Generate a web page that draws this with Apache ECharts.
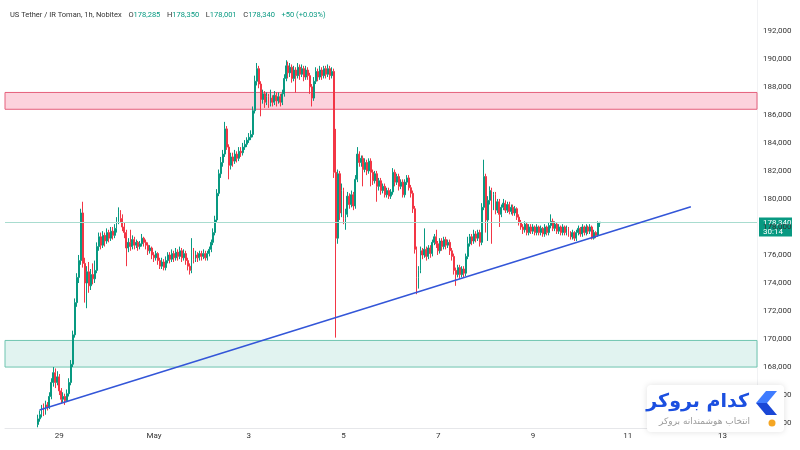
<!DOCTYPE html>
<html>
<head>
<meta charset="utf-8">
<script src="https://cdn.jsdelivr.net/npm/echarts@6/dist/echarts.min.js"></script>
<style>
  html, body { margin: 0; background: #fff; }
  #chart { width: 800px; height: 450px; }
</style>
</head>
<body>
<div id="chart"></div>
<script>
// hourly candles, [open, close, low, high] in toman
const apr28 = [
  [163900,164300,163700,164600],[164300,164600,164100,164900],[164600,165000,164400,165300],[165000,164800,164500,165400],
  [164800,165300,164600,165600],[165300,165100,164900,165500],[165100,165900,165000,166200],[165900,166900,165700,167200],
  [166900,167600,166600,168000],[167600,166900,166500,167900],[166900,167300,166700,167700],
]
const apr29 = [
  [167300,166300,166000,167500],[166300,165700,165400,166500],[165700,165900,165500,166200],[165900,165600,165300,166100],
  [165600,166100,165500,166400],[166100,166900,165900,167200],[166900,168200,166700,168500],[168200,170300,168000,170600],
  [170300,172600,170100,172900],[172600,174400,172300,174700],[174400,175600,174000,176000],[175600,179000,175300,179300],
  [179000,175400,175100,179800],[175400,174000,172600,175800],[174000,174800,172200,175200],[174800,173800,173300,175500],
  [173800,174600,173500,175000],[174600,174300,173900,175400],[174300,174900,174000,175600],[174900,176600,174700,176900],
  [176600,177300,176300,177600],[177300,176700,176400,177600],[176700,177400,176500,177700],[177400,177000,176600,177600],
]
const apr30 = [
  [177000,177600,176800,177900],[177600,177200,176900,177800],[177200,177700,177000,178000],[177700,177400,177100,178000],
  [177400,177900,177200,178200],[177900,178400,177600,178700],[178400,179000,178200,179400],[179000,178600,178300,179200],
  [178600,178000,177700,178900],[178000,177600,177200,178300],[177600,176500,175200,177800],[176500,176900,176200,177200],
  [176900,176600,176300,177800],[176600,177100,176400,177400],[177100,176700,176400,177300],[176700,176900,176500,177100],
  [176900,176600,176300,177000],[176600,176800,176400,177000],[176800,177200,176600,177500],[177200,176900,176600,177300],
  [176900,176700,176400,177100],[176700,176300,176000,176900],[176300,176500,176100,176700],[176500,176000,175700,176600],
]
const may1 = [
  [176000,175800,175500,176200],[175800,176100,175600,176300],[176100,175600,175300,176200],[175600,175200,175000,175800],
  [175200,175500,175000,175800],[175500,175100,174900,175700],[175100,175600,174900,175900],[175600,176000,175400,176200],
  [176000,175700,175400,176200],[175700,176100,175500,176400],[176100,175800,175500,176300],[175800,176200,175600,176500],
  [176200,175900,175600,176400],[175900,176300,175700,176600],[176300,175800,175500,176500],[175800,176100,175600,176400],
  [176100,175600,175300,176300],[175600,175200,174900,175800],[175200,174900,174600,175400],[174900,176200,174700,177200],
  [176200,175700,175400,176500],[175700,176000,175500,176300],[176000,175800,175500,176200],[175800,176100,175600,176300],
]
const may2 = [
  [176100,175900,175600,176300],[175900,176100,175700,176400],[176100,175800,175600,176300],[175800,176100,175600,176300],
  [176100,176400,175900,176600],[176400,176900,176200,177100],[176900,177600,176700,177900],[177600,178500,177400,178800],
  [178500,180400,178300,180700],[180400,181800,180200,182100],[181800,182600,181500,183000],[182600,183200,182300,183500],
  [183200,185000,183000,185500],[185000,183700,183500,185200],[183700,182400,181400,183900],[182400,183000,182100,183300],
  [183000,182700,182300,183300],[182700,183200,182500,183500],[183200,182900,182600,183400],[182900,183400,182700,183700],
  [183400,183300,183000,183700],[183300,183700,183100,184000],[183700,183900,183500,184200],[183900,184200,183700,184400],
]
const may3 = [
  [184200,184400,184000,184700],[184400,184600,184200,184900],[184600,186300,184400,186600],[186300,188400,186100,188800],
  [188400,189300,188100,189700],[189300,188200,187900,189500],[188200,187100,185900,188400],[187100,187500,186800,187800],
  [187500,186900,186500,187700],[186900,187300,186700,187600],[187300,186800,186500,187500],[186800,187200,186600,187800],
  [187200,186900,186600,187400],[186900,187400,186700,187700],[187400,187000,186600,187600],[187000,187300,186800,187600],
  [187300,186900,186600,187500],[186900,187500,186700,187800],[187500,188600,187300,188900],[188600,189500,188400,189900],
  [189500,189000,188600,189800],[189000,189400,188700,189700],[189400,188600,188300,189600],[188600,189200,188400,189500],
]
const may4 = [
  [189200,188800,187600,189400],[188800,189400,188600,189700],[189400,188900,188500,189600],[188900,189300,188700,189600],
  [189300,188700,188400,189500],[188700,189200,188500,189500],[189200,188800,188500,189400],[188800,188000,187500,189000],
  [188000,187200,186600,188200],[187200,188400,187000,188700],[188400,189100,188200,189400],[189100,188700,188400,189300],
  [188700,189200,188500,189500],[189200,188800,188500,189400],[188800,189300,188600,189500],[189300,188900,188600,189500],
  [188900,189300,188700,189600],[189300,188800,188500,189500],[188800,189100,188600,189400],[189100,181900,181500,189300],
  [181900,177200,170100,185000],[177200,181800,176800,182100],[181800,179000,178500,182000],[179000,180600,178700,181100],
]
const may5 = [
  [180600,178600,178200,180800],[178600,178900,177800,179300],[178900,180200,178700,180500],[180200,179600,179300,180400],
  [179600,180300,179400,180600],[180300,179500,179200,180500],[179500,181400,179300,181700],[181400,183200,181200,183700],
  [183200,182600,182300,183400],[182600,182900,182300,183100],[182900,182100,180900,183100],[182100,182600,181900,182900],
  [182600,182000,181700,182800],[182000,182700,181800,182900],[182700,181900,180900,182900],[181900,181300,181000,182100],
  [181300,181800,181100,182000],[181800,180900,179800,182000],[180900,181300,180600,181500],[181300,180600,180300,181500],
  [180600,180900,180400,181100],[180900,180300,180100,181100],[180300,180600,180100,180800],[180600,180200,180000,180800],
]
const may6 = [
  [180200,180500,180000,180700],[180500,181900,180300,182200],[181900,181200,180900,182100],[181200,181600,181000,181800],
  [181600,180900,180600,181800],[180900,181200,180700,181400],[181200,180300,180100,181400],[180300,181200,180100,181400],
  [181200,181500,181000,181700],[181500,180800,180600,181700],[180800,180400,180100,181000],[180400,179300,179000,180600],
  [179300,176400,176100,179500],[176400,174400,173200,176600],[174400,174900,173600,175200],[174900,176300,174700,176600],
  [176300,176000,175700,176500],[176000,176400,175800,177900],[176400,175900,175600,176600],[175900,176500,175700,176700],
  [176500,176100,175800,176700],[176100,176900,175900,177100],[176900,177300,176700,177500],[177300,176800,176500,177800],
]
const may7 = [
  [176800,176300,176000,177000],[176300,177000,176100,177200],[177000,176600,176300,177200],[176600,177100,176400,177300],
  [177100,176700,176400,177300],[176700,176900,176500,177100],[176900,176300,176000,177100],[176300,175900,175600,176500],
  [175900,174900,174600,176100],[174900,174600,173800,175100],[174600,175100,174400,175300],[175100,174600,174300,175300],
  [174600,175000,174400,175200],[175000,174700,174400,175200],[174700,175900,174500,176100],[175900,176800,175700,177300],
  [176800,177300,176600,177500],[177300,177000,176700,177500],[177000,177500,176800,177800],[177500,177200,176900,177700],
  [177200,177600,177000,177800],[177600,176900,176600,177800],[176900,179400,176700,179700],[179400,181600,179200,182800],
]
const may8 = [
  [181600,178500,177600,181800],[178500,179900,177000,180200],[179900,180600,179600,180900],[180600,179500,176800,180800],
  [179500,180300,179200,180500],[180300,179200,178900,180500],[179200,179800,179000,180000],[179800,178900,178000,180000],
  [178900,179400,178700,179600],[179400,179700,179200,180000],[179700,179200,179000,179900],[179200,179600,179000,179800],
  [179600,179100,178900,179800],[179100,179400,178900,179600],[179400,179000,178800,179600],[179000,179300,178800,179500],
  [179300,178700,178500,179400],[178700,178300,178100,178900],[178300,178000,177800,178500],[178000,177800,177500,178200],
  [177800,178200,177600,178400],[178200,177600,177400,178300],[177600,178000,177400,178200],[178000,177700,177500,178200],
]
const may9 = [
  [177700,178000,177500,178200],[178000,177600,177400,178100],[177600,178000,177400,178200],[178000,177600,177400,178100],
  [177600,177900,177400,178100],[177900,177500,177300,178000],[177500,178000,177300,178200],[178000,177600,177400,178100],
  [177600,178100,177400,178300],[178100,178400,177900,178900],[178400,177900,177700,178600],[177900,178200,177700,178400],
  [178200,177700,177500,178300],[177700,178000,177500,178200],[178000,177600,177400,178100],[177600,178000,177400,178200],
  [178000,177600,177400,178100],[177600,177900,177400,178100],[177900,177500,177300,178000],[177500,177300,177100,177700],
  [177300,177600,177100,177800],[177600,177200,177000,177700],[177200,177600,177000,177800],[177600,177900,177400,178100],
]
const may10 = [
  [177900,177500,177300,178000],[177500,178000,177300,178200],[178000,177600,177400,178100],[177600,178000,177400,178200],
  [178000,177700,177500,178100],[177700,178000,177500,178200],[178000,177200,177100,178100],[177200,177600,177100,177800],
  [177600,177400,177200,177700],[177400,178285,177300,178400],[178285,178340,178001,178350],
]
const candles = [].concat(apr28, apr29, apr30, may1, may2, may3, may4, may5, may6, may7, may8, may9, may10)
const firstCandle = '04-28 13'

// axis
const yTicks = [164000, 166000, 168000, 170000, 172000, 174000, 176000, 178000, 180000, 182000, 184000, 186000, 188000, 190000, 192000]
const dayLabels = { '04-29 00': '29', '05-01 00': 'May', '05-03 00': '3', '05-05 00': '5', '05-07 00': '7', '05-09 00': '9', '05-11 00': '11', '05-13 00': '13' }

// drawings
const resistance = [186400, 187600]
const support = [168000, 169900]
const trendStart = ['04-28 14', 164940]
const trendEnd = ['05-12 08', 179440]
const lastPrice = 178340
const countdown = '30:14'

// header
const title = 'US Tether / IR Toman, 1h, Nobitex'
const ohlcKeys = ['O', 'H', 'L', 'C']
const ohlcVals = ['178,285', '178,350', '178,001', '178,340']
const change = '+50 (+0.03%)'

const UP = '#089981'
const DOWN = '#f23645'

// hourly slots from Apr 27 21:00 to May 13 17:00
const pad = n => String(n).padStart(2, '0')
const slots = []
const startMs = Date.UTC(2024, 3, 27, 21)
for (let i = 0; i < 381; i++) {
  const d = new Date(startMs + i * 3600e3)
  slots.push(pad(d.getUTCMonth() + 1) + '-' + pad(d.getUTCDate()) + ' ' + pad(d.getUTCHours()))
}
const first = slots.indexOf(firstCandle)
const seriesData = candles.map((c, i) => [first + i, ...c])

const fmt = v => v.toLocaleString('en-US')

const chart = echarts.init(document.getElementById('chart'))

// header line as one rich text
let header = '{t|' + title + '}  '
ohlcKeys.forEach((k, i) => { header += '{t|' + k + '}{v|' + ohlcVals[i] + '}  ' })
header += '{v|' + change + '}'

chart.setOption({
  animation: false,
  backgroundColor: '#fff',
  textStyle: { fontFamily: 'Roboto' },
  grid: { left: 5, right: 43, top: 0, bottom: 22 },
  xAxis: {
    type: 'category',
    data: slots,
    boundaryGap: true,
    axisLine: { lineStyle: { color: '#e6e7ea' } },
    axisTick: { show: false },
    splitLine: { show: false },
    axisLabel: {
      color: '#333', fontSize: 8, margin: 4,
      interval: (i, v) => !!dayLabels[v],
      formatter: v => dayLabels[v] || '',
    },
  },
  yAxis: {
    type: 'value',
    position: 'right',
    min: 163650,
    max: 194200,
    axisLine: { show: true, lineStyle: { color: '#f1f2f4' } },
    axisTick: { show: false },
    splitLine: { show: false },
    axisLabel: { color: '#333', fontSize: 8, margin: 6, customValues: yTicks, formatter: fmt },
  },
  series: [{
    type: 'candlestick',
    data: seriesData,
    encode: { x: 0, y: [1, 2, 3, 4] },
    barWidth: '72%',
    itemStyle: { color: UP, color0: DOWN, borderColor: UP, borderColor0: DOWN, borderWidth: 1 },
    markArea: {
      silent: true,
      data: [
        [{ yAxis: resistance[0], itemStyle: { color: 'rgba(242,54,100,0.22)', borderColor: '#e5607c', borderWidth: 1 } }, { yAxis: resistance[1] }],
        [{ yAxis: support[0], itemStyle: { color: 'rgba(8,153,129,0.12)', borderColor: '#6fc5b0', borderWidth: 1 } }, { yAxis: support[1] }],
      ],
    },
    markLine: {
      silent: true,
      symbol: ['none', 'none'],
      label: { show: false },
      data: [
        { yAxis: lastPrice, lineStyle: { color: '#a8dccf', width: 1, type: 'solid' } },
        [
          { coord: [slots.indexOf(trendStart[0]), trendStart[1]], lineStyle: { color: '#3356d8', width: 1.5, type: 'solid' } },
          { coord: [slots.indexOf(trendEnd[0]), trendEnd[1]] },
        ],
      ],
    },
  }],
  graphic: [
    {
      type: 'text', x: 10, y: 15,
      style: {
        text: header, textVerticalAlign: 'middle',
        rich: { t: { fill: '#333', fontSize: 7.5, fontFamily: 'Roboto' }, v: { fill: UP, fontSize: 7.5, fontFamily: 'Roboto' } },
      },
    },
    { type: 'rect', shape: { x: 759, y: 217.5, width: 33, height: 19 }, style: { fill: UP } },
    { type: 'text', x: 763, y: 223, style: { text: fmt(lastPrice), fill: '#fff', font: '8px Roboto', textVerticalAlign: 'middle' } },
    { type: 'text', x: 763, y: 232, style: { text: countdown, fill: '#fff', font: '8px Roboto', textVerticalAlign: 'middle' } },
    // watermark logo
    { type: 'rect', z: 100, shape: { x: 647, y: 385, width: 137, height: 47, r: 4 }, style: { fill: '#fff', shadowBlur: 6, shadowColor: 'rgba(0,0,0,0.12)' } },
    { type: 'polygon', z: 101, shape: { points: [[777, 391], [766, 391], [756, 403], [767, 403]] }, style: { fill: '#3f7cff' } },
    { type: 'polygon', z: 101, shape: { points: [[756, 403], [766, 415], [777, 415], [767, 403]] }, style: { fill: '#1a47d6' } },
    { type: 'circle', z: 101, shape: { cx: 772, cy: 423, r: 3.5 }, style: { fill: '#f5a623' } },
    { type: 'text', z: 101, x: 749, y: 402, style: { text: 'کدام بروکر', fill: '#1b4fe0', font: 'bold 19px "DejaVu Sans"', textAlign: 'right', textVerticalAlign: 'middle' } },
    { type: 'text', z: 101, x: 750, y: 422, style: { text: 'انتخاب هوشمندانه بروکر', fill: '#9b9b9b', font: '9px "DejaVu Sans"', textAlign: 'right', textVerticalAlign: 'middle' } },
  ],
})
</script>
</body>
</html>
